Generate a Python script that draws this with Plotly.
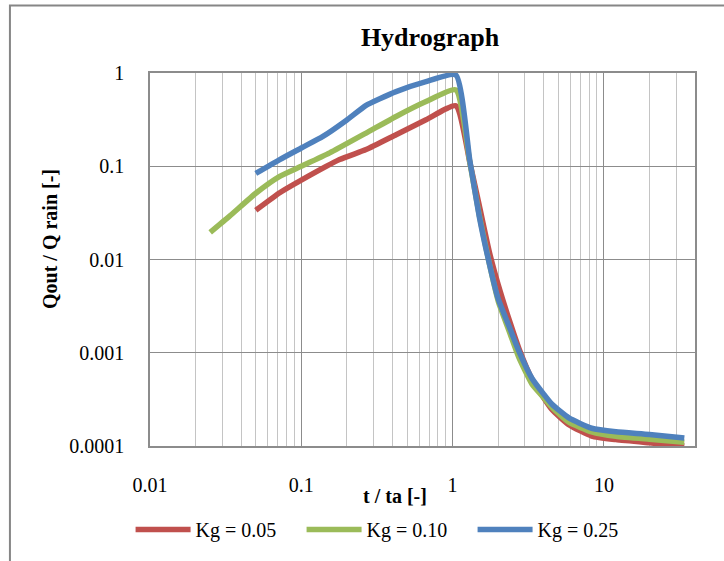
import plotly.graph_objects as go

# ---- data ----
t_red = [0.05, 0.072, 0.1, 0.179, 0.268, 0.423, 0.667, 1.05, 1.3, 1.5, 1.75, 2.0, 2.4, 2.75, 3.35, 4.5, 5.9, 8.3, 12, 20, 34]
q_red = [0.0337, 0.052, 0.071, 0.118, 0.151, 0.218, 0.315, 0.445, 0.11, 0.038, 0.012, 0.0054, 0.0021, 0.0011, 0.00052, 0.00025,
         0.000168, 0.000128, 0.000117, 0.000108, 0.0001]

t_green = [0.025, 0.0337, 0.0505, 0.072, 0.1, 0.154, 0.268, 0.423, 0.667, 1.05, 1.3, 1.5, 1.75, 2.0, 2.4, 2.75, 3.35, 4.0, 4.54,
           5.87, 8.3, 12, 20, 34]
q_green = [0.0195, 0.0293, 0.052, 0.078, 0.1, 0.139, 0.227, 0.342, 0.494, 0.659, 0.11, 0.03, 0.009, 0.0036, 0.0016, 0.00088,
           0.00046, 0.00033, 0.00026, 0.00018, 0.000142, 0.000127, 0.000118, 0.00011]

t_blue = [0.05, 0.072, 0.1, 0.139, 0.198, 0.268, 0.33, 0.423, 0.667, 1.05, 1.3, 1.5, 1.75, 2.0, 2.4, 2.75, 3.35, 4.0, 4.54,
          5.87, 8.3, 12, 20, 34]
q_blue = [0.0837, 0.118, 0.157, 0.209, 0.31, 0.45, 0.53, 0.632, 0.807, 0.952, 0.115, 0.029, 0.009, 0.0038, 0.0018, 0.00103,
          0.00053, 0.00036, 0.00028, 0.0002, 0.000155, 0.000142, 0.000133, 0.000122]

series_names = ["Kg = 0.05", "Kg = 0.10", "Kg = 0.25"]
series_colors = ["#C0504D", "#9BBB59", "#4F81BD"]

x_tick_vals = [0.01, 0.1, 1, 10]
x_tick_text = ["0.01", "0.1", "1", "10"]
y_tick_vals = [0.0001, 0.001, 0.01, 0.1, 1]
y_tick_text = ["0.0001", "0.001", "0.01", "0.1", "1"]

FONT = "Liberation Serif, Times New Roman, serif"

fig = go.Figure()
for t, q, name, col in zip([t_red, t_green, t_blue], [q_red, q_green, q_blue], series_names, series_colors):
    fig.add_trace(go.Scatter(x=t, y=q, mode="lines", name=name,
                             line=dict(color=col, width=5.5, shape="spline", smoothing=0.5)))

minor_x = [m * 10 ** e for e in range(-2, 2) for m in range(2, 10) if m * 10 ** e <= 40]

fig.update_layout(
    width=724, height=561,
    margin=dict(l=150, r=29, t=73, b=113),
    paper_bgcolor="white", plot_bgcolor="white",
    font=dict(family=FONT, size=20, color="black"),
    title=dict(text="<b>Hydrograph</b>", x=430 / 724, xanchor="center", y=1 - 37 / 561, yanchor="middle",
               font=dict(family=FONT, size=26, color="black")),
    showlegend=True,
    legend=dict(orientation="h", x=0.435, xanchor="center", y=-0.224, yanchor="middle",
                font=dict(family=FONT, size=20, color="black"), itemwidth=55,
                entrywidth=101, entrywidthmode="pixels", bgcolor="rgba(0,0,0,0)"),
    xaxis=dict(type="log", range=[-2, 1.60206], tickmode="array", tickvals=x_tick_vals, ticktext=x_tick_text,
               showgrid=True, gridcolor="#8C8C8C", gridwidth=1.3, ticks="", ticklabelstandoff=20,
               showline=True, mirror=True, linecolor="#8C8C8C", linewidth=1.5, zeroline=False,
               minor=dict(tickmode="array", tickvals=minor_x, showgrid=True, gridcolor="#C4C4C4", gridwidth=1.3, ticks="")),
    yaxis=dict(type="log", range=[-4, 0], tickmode="array", tickvals=y_tick_vals, ticktext=y_tick_text,
               showgrid=True, gridcolor="#8C8C8C", gridwidth=1.3, ticks="", ticklabelstandoff=20,
               showline=True, mirror=True, linecolor="#8C8C8C", linewidth=1.5, zeroline=False),
    annotations=[
        dict(text="<b>t / ta [-]</b>", xref="paper", yref="paper", x=0.450, y=-0.133, xanchor="center",
             yanchor="middle", showarrow=False, font=dict(family=FONT, size=20, color="black")),
        dict(text="<b>Qout / Q rain [-]</b>", xref="paper", yref="paper", x=-0.1835, y=0.555, xanchor="center",
             yanchor="middle", textangle=-90, showarrow=False, font=dict(family=FONT, size=20, color="black")),
    ],
    shapes=[dict(type="rect", xref="paper", yref="paper", x0=-0.257, y0=1.181, x1=1.08, y1=-0.33,
                 line=dict(color="#868686", width=2), layer="below")],
)

fig.write_html("out.html")
